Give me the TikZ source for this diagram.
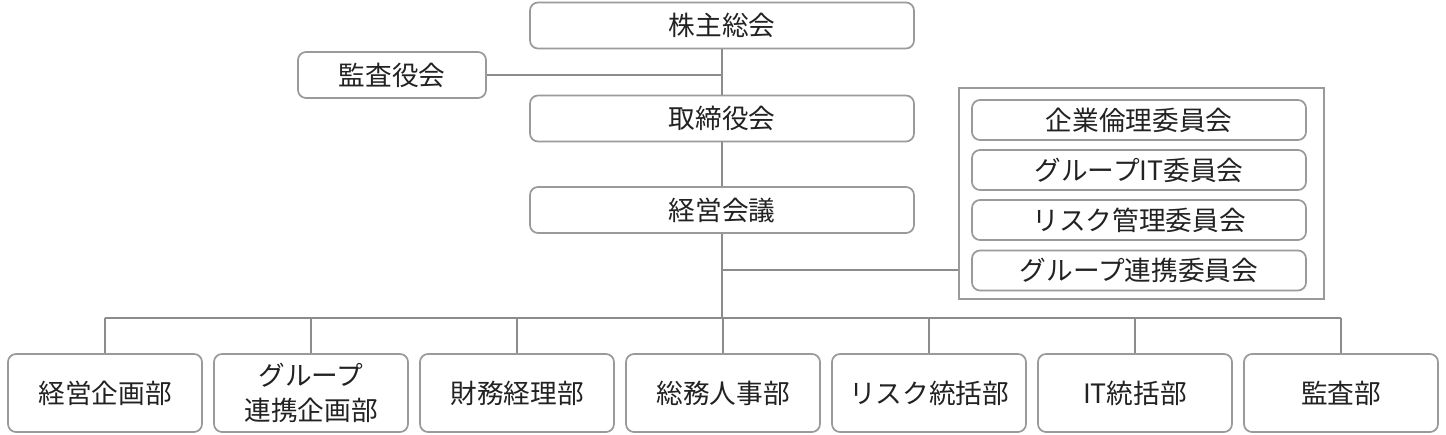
\documentclass[tikz,border=0pt]{standalone}
\usepackage{fontspec}
\newfontfamily\jp{Noto Sans CJK JP}
\definecolor{linegray}{HTML}{8C8C8C}
\definecolor{boxgray}{HTML}{9A9A9A}
\definecolor{txt}{HTML}{222222}
\begin{document}
\begin{tikzpicture}[x=0.75pt,y=-0.75pt,
  base/.style={draw=boxgray, line width=1.3pt, rounded corners=6pt, fill=white, text=txt,
    inner sep=0pt, align=center, font=\jp\fontsize{20}{26}\selectfont},
  topbox/.style={base, minimum width=288pt, minimum height=34.5pt},
  kbox/.style={base, minimum width=141pt, minimum height=34.5pt},
  cbox/.style={base, minimum width=250.5pt, minimum height=30pt},
  dbox/.style={base, minimum width=145.5pt, minimum height=58.5pt},
  outerbox/.style={draw=boxgray, line width=1.3pt, minimum width=273.75pt, minimum height=158.25pt, inner sep=0pt},
  conn/.style={draw=linegray, line width=1.3pt}]
\useasboundingbox (0,0) rectangle (1446,435);
% top chain
\node[topbox] (kabu) at (722,25.5) {株主総会};
\node[kbox] (kansa) at (392,75) {監査役会};
\node[topbox] (tori) at (722,118.5) {取締役会};
\node[topbox] (keiei) at (722,210) {経営会議};
% committees
\node[outerbox] (outer) at (1141.5,193.5) {};
\node[cbox] (c1) at (1139,120) {企業倫理委員会};
\node[cbox] (c2) at (1139,170) {グループIT委員会};
\node[cbox] (c3) at (1139,220) {リスク管理委員会};
\node[cbox] (c4) at (1139,270.5) {グループ連携委員会};
% departments
\node[dbox] (d1) at (105,393) {経営企画部};
\node[dbox] (d2) at (311,393) {グループ\\連携企画部};
\node[dbox] (d3) at (517,393) {財務経理部};
\node[dbox] (d4) at (723,393) {総務人事部};
\node[dbox] (d5) at (929,393) {リスク統括部};
\node[dbox] (d6) at (1135,393) {IT統括部};
\node[dbox] (d7) at (1341,393) {監査部};
% junctions
\coordinate (jk) at (kansa.east -| kabu.south);
\coordinate (jc) at (722,270);
\coordinate (bar) at (722,318);
% connectors
\draw[conn] (kabu.south) -- (tori.north);
\draw[conn] (kansa.east) -- (jk);
\draw[conn] (tori.south) -- (keiei.north);
\draw[conn] (keiei.south) -- (bar);
\draw[conn] (jc) -- (jc -| outer.west);
\draw[conn] (d1.north |- bar) -- (d7.north |- bar);
\foreach \d in {d1,d2,d3,d4,d5,d6,d7}{
  \draw[conn] (\d.north |- bar) -- (\d.north);
}
\end{tikzpicture}
\end{document}
